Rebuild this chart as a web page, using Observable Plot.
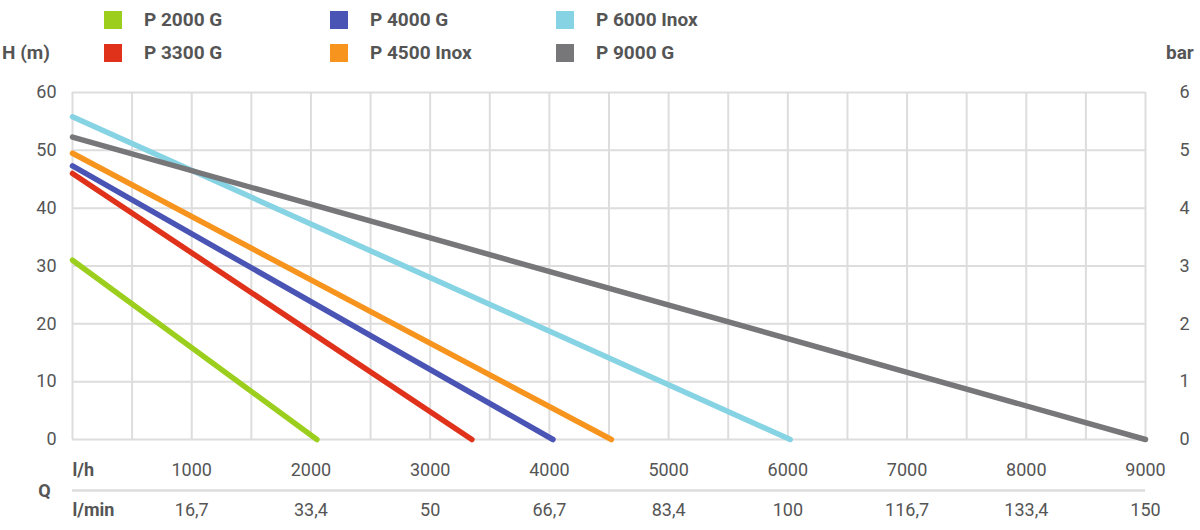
<!DOCTYPE html><html><head><meta charset="utf-8">
<script src="https://cdn.jsdelivr.net/npm/d3@7"></script>
<script src="https://cdn.jsdelivr.net/npm/@observablehq/plot@0.6"></script>
<style>body{margin:0;font-family:Roboto,"Liberation Sans",sans-serif;background:#fff}
#wrap{position:relative;width:1200px;height:530px}
.lg{position:absolute;font-size:19px;font-weight:bold;color:#555;display:flex;align-items:center}
.lg span{display:inline-block;width:18px;height:18px;margin-right:22px}
.lab{position:absolute;font-size:19px;font-weight:bold;color:#555}
</style></head><body><div id="wrap"></div>
<script>
const models=["P 2000 G","P 3300 G","P 4000 G","P 4500 Inox","P 6000 Inox","P 9000 G"];
const colors=["#9ccf1d","#e0321a","#4a54b4","#f7941d","#86d3e3","#77777a"];
const headMax=[31,46,47.3,49.5,55.8,52.3];
const flowMax=[2050,3350,4030,4520,6020,9000];
const lhTicks=[1000,2000,3000,4000,5000,6000,7000,8000,9000];
const lminLabels=["16,7","33,4","50","66,7","83,4","100","116,7","133,4","150"];
const hTicks=[0,10,20,30,40,50,60];
const barLabels=["0","1","2","3","4","5","6"];
const lines=[];
models.forEach((m,i)=>{lines.push({m,q:0,h:headMax[i]});lines.push({m,q:flowMax[i],h:0});});
const grid=d3.range(0,9001,500);
const ticks=lhTicks.map((q,i)=>({q,lh:String(q),lm:lminLabels[i]}));
const ht=hTicks.map((h,i)=>({h,b:barLabels[i]}));
const chart=Plot.plot({width:1200,height:530,marginLeft:72,marginRight:55,marginTop:92,marginBottom:91,
 style:{fontFamily:"Roboto, 'Liberation Sans', sans-serif",fontSize:"17px",color:"#555"},
 x:{domain:[0,9000],axis:null},y:{domain:[0,60],axis:null},
 color:{domain:models,range:colors},
 marks:[
  Plot.ruleX(grid,{x:d=>d,stroke:"#ddd",strokeWidth:2}),
  Plot.ruleY(hTicks,{y:d=>d,stroke:"#ddd",strokeWidth:2}),
  Plot.line(lines,{x:"q",y:"h",z:"m",stroke:"m",strokeWidth:5.5,strokeLinecap:"round"}),
  Plot.text(ht,{x:0,y:"h",text:d=>String(d.h),dx:-16,textAnchor:"end",fontSize:18,fill:"#555"}),
  Plot.text(ht,{x:9000,y:"h",text:"b",dx:39,textAnchor:"middle",fontSize:18,fill:"#555"}),
  Plot.text(ticks,{x:"q",y:0,text:"lh",dy:31,fontSize:18,fill:"#555"}),
  Plot.text(ticks,{x:"q",y:0,text:"lm",dy:71,fontSize:18,fill:"#555"}),
  Plot.text(["l/h"],{x:0,y:0,text:d=>d,dy:31,textAnchor:"start",fontSize:18,fontWeight:"bold",fill:"#555"}),
  Plot.text(["l/min"],{x:0,y:0,text:d=>d,dy:71,textAnchor:"start",fontSize:18,fontWeight:"bold",fill:"#555"}),
  Plot.text(["Q"],{x:0,y:0,text:d=>d,dy:52,dx:-28,textAnchor:"middle",fontSize:18,fontWeight:"bold",fill:"#555"}),
  Plot.ruleY([0],{x1:0,x2:9000,y:0,dy:51,stroke:"#ddd",strokeWidth:2.5})
 ]});
const wrap=document.getElementById("wrap");wrap.appendChild(chart);
const order=[0,2,4,1,3,5];
const lp=[[104,8],[330,8],[556,8],[104,41],[330,41],[556,41]];
order.forEach((k,j)=>{const d=document.createElement("div");d.className="lg";d.style.left=lp[j][0]+"px";d.style.top=lp[j][1]+"px";
 d.innerHTML=`<span style="background:${colors[k]}"></span>${models[k]}`;wrap.appendChild(d);});
[["H (m)",2,41],["bar",1166,41]].forEach(([t,x,y])=>{const d=document.createElement("div");d.className="lab";d.textContent=t;d.style.left=x+"px";d.style.top=y+"px";wrap.appendChild(d);});
</script></body></html>
